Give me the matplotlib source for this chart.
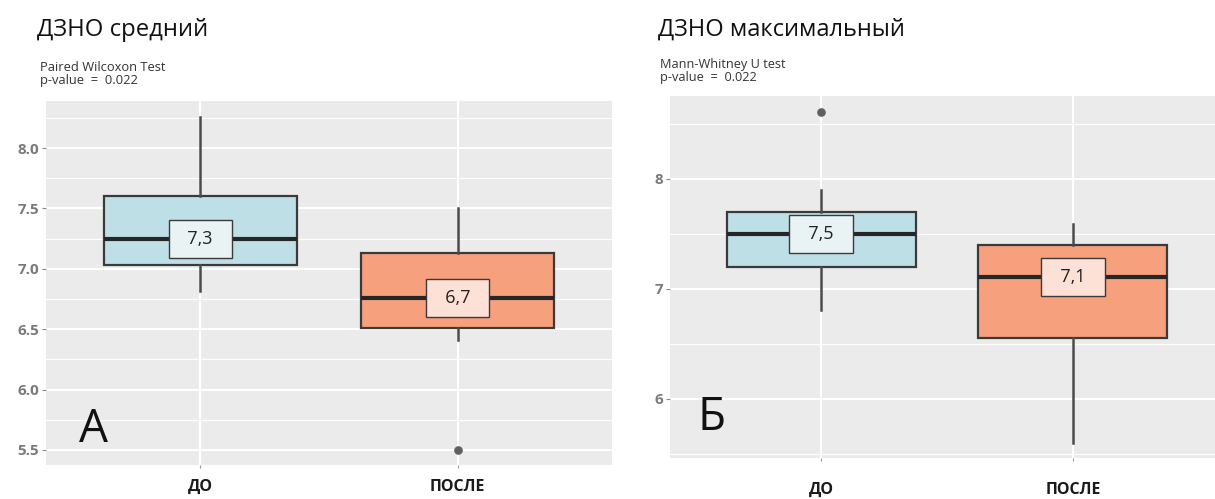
import matplotlib.pyplot as plt

plt.rcParams['font.family'] = ['Open Sans', 'DejaVu Sans']

# --- Data ---
groups = ["ДО", "ПОСЛЕ"]

# panel A: mean DZNO
a_q1 = [7.03, 6.51]
a_med = [7.25, 6.76]
a_q3 = [7.60, 7.13]
a_lo = [6.82, 6.41]
a_hi = [8.26, 7.50]
a_fliers = [[], [5.5]]
a_labels = ["7,3", "6,7"]

# panel B: max DZNO
b_q1 = [7.20, 6.55]
b_med = [7.50, 7.11]
b_q3 = [7.70, 7.40]
b_lo = [6.81, 5.60]
b_hi = [7.90, 7.59]
b_fliers = [[8.61], []]
b_labels = ["7,5", "7,1"]

box_colors = ["#bfdfe7", "#f7a07e"]
label_fills = ["#e9f3f4", "#fde1d7"]

W, H = 1215, 499
fig = plt.figure(figsize=(W / 100, H / 100), dpi=100)


def px_axes(x0, x1, y_top, y_bot):
    return fig.add_axes([x0 / W, (H - y_bot) / H, (x1 - x0) / W, (y_bot - y_top) / H])


def draw_panel(ax, q1, med, q3, lo, hi, fliers, labels, ylim, major, minor, xpad):
    ax.set_facecolor("#ebebeb")
    for s in ax.spines.values():
        s.set_visible(False)
    ax.set_xlim(0.4, 2.6)
    ax.set_ylim(*ylim)
    ax.set_yticks(major)
    ax.set_yticks(minor, minor=True)
    ax.grid(True, which="major", axis="y", color="white", lw=1.5)
    ax.grid(True, which="minor", axis="y", color="white", lw=0.8)
    for x in (1, 2):
        ax.axvline(x, color="white", lw=1.5, zorder=0.5)
    ax.set_axisbelow(True)

    stats = []
    for i in range(2):
        stats.append(dict(q1=q1[i], med=med[i], q3=q3[i], whislo=lo[i],
                          whishi=hi[i], fliers=fliers[i]))
    bp = ax.bxp(stats, positions=[1, 2], widths=0.75, patch_artist=True,
                showcaps=False,
                boxprops=dict(edgecolor="#3a3a3a", lw=1.6),
                whiskerprops=dict(color="#4a4a4a", lw=1.8),
                medianprops=dict(color="#262626", lw=3),
                flierprops=dict(marker="o", markersize=5.2, markerfacecolor="#606060",
                                markeredgecolor="#606060"))
    for patch, c in zip(bp["boxes"], box_colors):
        patch.set_facecolor(c)

    # value labels centred on the median line
    for i, (m, lab) in enumerate(zip(med, labels)):
        ax.text(i + 1, m, "  " + lab + "  ", ha="center", va="center",
                fontsize=13, color="#222222", zorder=5,
                bbox=dict(boxstyle="square,pad=0.55", facecolor=label_fills[i],
                          edgecolor="#3a3a3a", lw=1.0))

    ax.set_xticks([1, 2])
    ax.set_xticklabels(groups, fontsize=11.5, fontweight="bold", color="#1a1a1a")
    ax.tick_params(axis="x", length=2, color="#999999", pad=xpad)
    ax.tick_params(axis="y", length=3, color="#888888", labelsize=11,
                   labelcolor="#7a7a7a", pad=2)
    ax.tick_params(axis="y", which="minor", length=0)
    for t in ax.get_yticklabels():
        t.set_fontweight("bold")


# --- Panel A ---
axA = px_axes(46, 612, 101, 465)
draw_panel(axA, a_q1, a_med, a_q3, a_lo, a_hi, a_fliers, a_labels,
           (5.375, 8.39), [5.5, 6.0, 6.5, 7.0, 7.5, 8.0],
           [5.75, 6.25, 6.75, 7.25, 7.75, 8.25], 8)
axA.set_yticklabels(["5.5", "6.0", "6.5", "7.0", "7.5", "8.0"])
axA.text(0.058, 0.095, "А", transform=axA.transAxes, fontsize=33, color="#111111",
         ha="left", va="center")

# --- Panel B ---
axB = px_axes(670, 1224, 96, 458)
draw_panel(axB, b_q1, b_med, b_q3, b_lo, b_hi, b_fliers, b_labels,
           (5.46, 8.755), [6, 7, 8], [5.5, 6.5, 7.5, 8.5], 15)
axB.set_yticklabels(["6", "7", "8"])
axB.text(0.05, 0.11, "Б", transform=axB.transAxes, fontsize=33, color="#111111",
         ha="left", va="center")

# --- Titles ---
fig.text(37 / W, 1 - 30 / H, "ДЗНО средний", fontsize=17.2, color="#111111",
         ha="left", va="center")
fig.text(40 / W, 1 - 74 / H, "Paired Wilcoxon Test\np-value  =  0.022", fontsize=9.3,
         color="#333333", ha="left", va="center", linespacing=1.0)
fig.text(658 / W, 1 - 30 / H, "ДЗНО максимальный", fontsize=17, color="#111111",
         ha="left", va="center")
fig.text(660 / W, 1 - 71 / H, "Mann-Whitney U test\np-value  =  0.022", fontsize=9.2,
         color="#333333", ha="left", va="center", linespacing=1.0)

fig.savefig("out.png", dpi=100)
